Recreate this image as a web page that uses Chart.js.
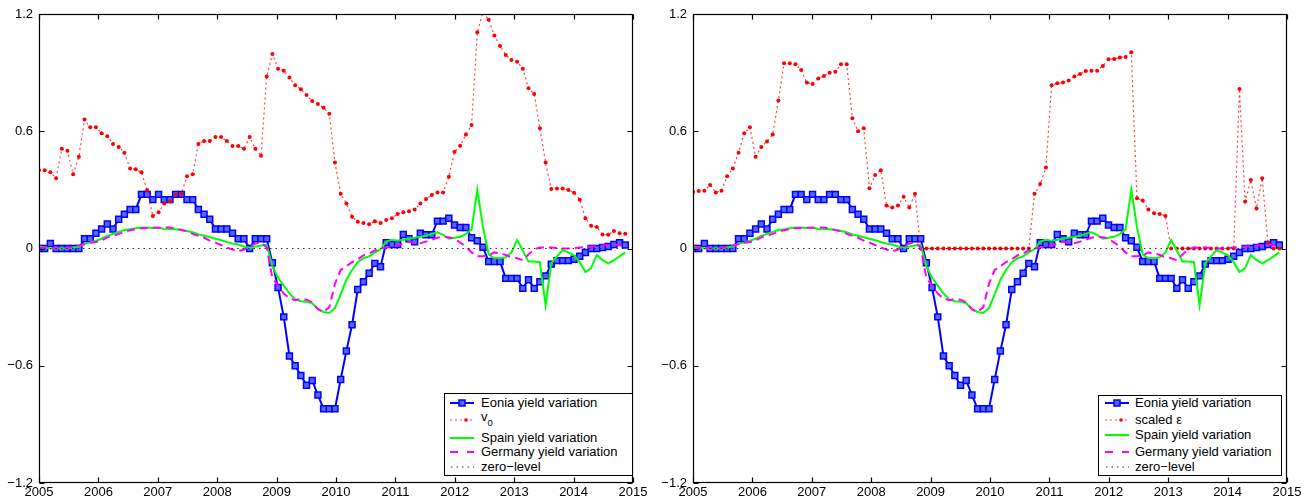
<!DOCTYPE html>
<html>
<head>
<meta charset="utf-8">
<title>Eonia, Spain and Germany yield variations</title>
<script src="https://cdn.jsdelivr.net/npm/chart.js@4.4.0/dist/chart.umd.min.js"></script>
<style>
  body { margin: 0; background: #fff; }
  #wrap {
    position: relative;
    width: 1315px;
    height: 501px;
    overflow: hidden;
    font-family: "Liberation Sans", Arial, sans-serif;
  }
  #wrap canvas { position: absolute; top: 0; }
  .legend {
    position: absolute;
    box-sizing: border-box;
    border: 1px solid #000;
    background: #fff;
  }
  .legend .row {
    position: absolute;
    left: 0;
    height: 16px;
    line-height: 16px;
    font-size: 13px;
    white-space: nowrap;
    color: #000;
  }
  .legend .row svg { position: absolute; top: 2px; }
  .legend .row span.txt { position: absolute; }
  .legend .sub { font-size: 9.5px; position: relative; top: 5px; }
</style>
</head>
<body>
<div id="wrap">
  <canvas id="leftChart" width="655" height="501" style="left:0"></canvas>
  <canvas id="rightChart" width="660" height="501" style="left:655px"></canvas>
  <div id="leftLegend" class="legend" style="left:444px; top:393px; width:189px; height:83px"></div>
  <div id="rightLegend" class="legend" style="left:1098px; top:395px; width:184px; height:81px"></div>
</div>
<script>
// observations are about five weeks apart, starting Jan 2005
const START_YEAR = 2005;
const STEP_DAYS = 35;

const yearTicks = [2005, 2006, 2007, 2008, 2009, 2010, 2011, 2012, 2013, 2014, 2015];
const valueTicks = [-1.2, -0.6, 0, 0.6, 1.2];

const eonia = [
  0, 0, 0.026, 0, 0, 0, 0, 0, 0.05, 0.05,
  0.078, 0.1, 0.125, 0.1, 0.15, 0.175, 0.2, 0.2, 0.277, 0.277,
  0.25, 0.277, 0.25, 0.25, 0.277, 0.277, 0.25, 0.25, 0.2, 0.175,
  0.15, 0.1, 0.1, 0.1, 0.078, 0.05, 0.05, 0, 0.05, 0.05,
  0.05, -0.073, -0.2, -0.35, -0.55, -0.6, -0.65, -0.7, -0.675, -0.75,
  -0.82, -0.82, -0.82, -0.67, -0.525, -0.39, -0.21, -0.17, -0.127, -0.076,
  -0.093, 0.03, 0.02, 0.02, 0.072, 0.05, 0.035, 0.078, 0.07, 0.07,
  0.14, 0.14, 0.155, 0.12, 0.107, 0.107, 0.055, 0.04, 0.006, -0.067,
  -0.067, -0.067, -0.153, -0.153, -0.153, -0.204, -0.16, -0.204, -0.17, -0.14,
  -0.08, -0.062, -0.062, -0.062, -0.055, -0.04, -0.02, 0, 0, 0.005,
  0.01, 0.02, 0.03, 0.018,
];

const v0 = [
  0.4, 0.4, 0.39, 0.36, 0.51, 0.5, 0.38, 0.47, 0.66, 0.62,
  0.62, 0.59, 0.575, 0.535, 0.52, 0.49, 0.41, 0.405, 0.39, 0.3,
  0.166, 0.185, 0.23, 0.24, 0.275, 0.28, 0.37, 0.38, 0.535, 0.55,
  0.55, 0.57, 0.57, 0.55, 0.525, 0.525, 0.51, 0.57, 0.51, 0.475,
  0.88, 0.995, 0.92, 0.91, 0.875, 0.835, 0.815, 0.785, 0.755, 0.74,
  0.72, 0.69, 0.44, 0.28, 0.23, 0.163, 0.137, 0.13, 0.124, 0.14,
  0.13, 0.146, 0.155, 0.177, 0.185, 0.19, 0.2, 0.23, 0.253, 0.274,
  0.287, 0.287, 0.367, 0.495, 0.526, 0.584, 0.632, 1.106, 1.21, 1.17,
  1.09, 1.036, 0.99, 0.965, 0.956, 0.92, 0.82, 0.79, 0.615, 0.44,
  0.305, 0.307, 0.307, 0.3, 0.285, 0.25, 0.155, 0.117, 0.11, 0.072,
  0.07, 0.09, 0.078, 0.075,
];

const scaledEps = [
  0.29, 0.294, 0.296, 0.325, 0.287, 0.296, 0.37, 0.41, 0.49, 0.59,
  0.62, 0.47, 0.52, 0.547, 0.584, 0.757, 0.948, 0.948, 0.943, 0.913,
  0.849, 0.842, 0.87, 0.883, 0.9, 0.905, 0.943, 0.943, 0.666, 0.6,
  0.615, 0.308, 0.376, 0.4, 0.22, 0.21, 0.22, 0.265, 0.21, 0.28,
  0, 0, 0, 0, 0, 0, 0, 0, 0, 0,
  0, 0, 0, 0, 0, 0, 0, 0, 0, 0,
  0.28, 0.33, 0.415, 0.835, 0.845, 0.85, 0.86, 0.88, 0.893, 0.908,
  0.91, 0.91, 0.934, 0.968, 0.97, 0.978, 0.98, 1.004, 0.257, 0.245,
  0.2, 0.18, 0.177, 0.166, 0, 0, 0, 0, 0, 0,
  0, 0, 0, 0, 0, 0, 0.816, 0.24, 0.35, 0.205,
  0.36, 0.03, 0, 0,
];

const spain = [
  0.01, 0.005, 0, 0, 0, 0, 0.005, 0.01, 0.025, 0.03,
  0.04, 0.05, 0.065, 0.075, 0.085, 0.095, 0.098, 0.104, 0.107, 0.107,
  0.105, 0.107, 0.1, 0.098, 0.098, 0.095, 0.09, 0.083, 0.072, 0.065,
  0.058, 0.05, 0.042, 0.033, 0.025, 0.02, 0.01, 0.002, 0.01, 0.015,
  0.018, -0.09, -0.15, -0.19, -0.23, -0.26, -0.27, -0.272, -0.28, -0.31,
  -0.325, -0.33, -0.305, -0.235, -0.16, -0.11, -0.07, -0.05, -0.04, -0.02,
  -0.004, 0.035, 0.045, 0.04, 0.045, 0.05, 0.055, 0.06, 0.065, 0.075,
  0.083, 0.07, 0.05, 0.055, 0.06, 0.075, 0.098, 0.3, 0.11, -0.03,
  -0.05, -0.05, -0.045, -0.02, 0.044, -0.01, -0.067, -0.067, -0.07, -0.29,
  -0.076, -0.04, -0.008, -0.02, -0.035, -0.07, -0.12, -0.1, -0.033, -0.06,
  -0.076, -0.06, -0.04, -0.02,
];

const germany = [
  0, 0.008, 0.005, 0, 0, 0.003, 0.008, 0.016, 0.022, 0.03,
  0.033, 0.042, 0.057, 0.065, 0.075, 0.085, 0.093, 0.1, 0.104, 0.105,
  0.106, 0.106, 0.107, 0.107, 0.102, 0.095, 0.088, 0.075, 0.065, 0.055,
  0.04, 0.03, 0.018, 0.005, -0.005, -0.015, -0.005, 0.01, 0.025, 0.03,
  0.005, -0.15, -0.19, -0.23, -0.255, -0.265, -0.258, -0.262, -0.275, -0.31,
  -0.325, -0.3, -0.18, -0.11, -0.09, -0.07, -0.055, -0.035, -0.025, -0.01,
  0, 0.005, 0.01, 0.015, 0.025, 0.035, 0.03, 0.027, 0.035, 0.045,
  0.055, 0.06, 0.058, 0.05, 0.03, 0.01, -0.02, -0.04, -0.04, -0.035,
  -0.02, -0.025, -0.033, -0.045, -0.05, -0.06, -0.03, -0.005, 0.005, 0.006,
  0.005, 0.002, 0, 0, 0.002, 0.005, 0.008, 0.01, 0.012, 0.015,
  0.018, 0.02, 0.018, 0.015,
];

const sampleDates = eonia.map((_, i) => START_YEAR + (i * STEP_DAYS) / 365.25);

const colors = {
  eonia: "#0000ff",
  eoniaFill: "#5468ff",
  red: "#ff0000",
  redLine: "rgba(255, 0, 0, 0.75)",
  spain: "#00ff00",
  germany: "#ff00ff",
  zero: "#333333",
};

const FONT = { family: '"Liberation Sans", Arial, sans-serif', size: 13 };

function toPoints(values) {
  return values.map((v, i) => ({ x: sampleDates[i], y: v }));
}

function formatValue(v) {
  if (Math.abs(v) < 1e-9) return "0";
  return (v < 0 ? "\u2212" : "") + Math.abs(v).toFixed(1);
}

// box round the plot plus inward tick marks on all four sides
const matlabFrame = {
  id: "matlabFrame",
  afterDatasetsDraw(chart) {
    const { ctx, chartArea: a, scales } = chart;
    const L = Math.round(a.left) + 0.5, R = Math.round(a.right) - 0.5;
    const T = Math.round(a.top) + 0.5, B = Math.round(a.bottom) - 0.5;
    ctx.save();
    ctx.strokeStyle = "#000";
    ctx.lineWidth = 1.2;
    ctx.strokeRect(L, T, R - L, B - T);
    ctx.beginPath();
    yearTicks.forEach((yr) => {
      const px = Math.round(scales.x.getPixelForValue(yr)) + 0.5;
      ctx.moveTo(px, B); ctx.lineTo(px, B - 5);
      ctx.moveTo(px, T); ctx.lineTo(px, T + 5);
    });
    valueTicks.forEach((v) => {
      const py = Math.round(scales.y.getPixelForValue(v)) + 0.5;
      ctx.moveTo(L, py); ctx.lineTo(L + 5, py);
      ctx.moveTo(R, py); ctx.lineTo(R - 5, py);
    });
    ctx.stroke();
    ctx.restore();
  },
};

function buildDatasets(redValues) {
  // first dataset is painted last, so list them top layer first
  return [
    {
      label: "zero-level",
      data: [{ x: 2005, y: 0 }, { x: 2015, y: 0 }],
      borderColor: colors.zero,
      borderWidth: 1,
      borderDash: [1.5, 4],
      pointRadius: 0,
    },
    {
      label: "Germany yield variation",
      data: toPoints(germany),
      borderColor: colors.germany,
      borderWidth: 2,
      borderDash: [8, 5],
      pointRadius: 0,
    },
    {
      label: "Spain yield variation",
      data: toPoints(spain),
      borderColor: colors.spain,
      borderWidth: 2,
      pointRadius: 0,
    },
    {
      label: "red",
      data: toPoints(redValues),
      borderColor: colors.redLine,
      borderWidth: 1.2,
      borderDash: [2, 3],
      pointRadius: 2,
      pointBorderWidth: 0,
      pointBackgroundColor: colors.red,
    },
    {
      label: "Eonia yield variation",
      data: toPoints(eonia),
      borderColor: colors.eonia,
      borderWidth: 2,
      pointStyle: "rect",
      pointRadius: 4.2,
      pointBorderWidth: 1.5,
      pointBorderColor: colors.eonia,
      pointBackgroundColor: colors.eoniaFill,
    },
  ];
}

function createChart(id, redValues, axisWidth, rightPad) {
  const ctx = document.getElementById(id).getContext("2d");
  return new Chart(ctx, {
    type: "line",
    data: { datasets: buildDatasets(redValues) },
    options: {
      responsive: false,
      devicePixelRatio: 1,
      animation: false,
      events: [],
      layout: { padding: { top: 14, right: rightPad, bottom: 0, left: 0 } },
      plugins: { legend: { display: false }, tooltip: { enabled: false } },
      scales: {
        x: {
          type: "linear",
          min: 2005,
          max: 2015,
          grid: { display: false, drawTicks: false },
          border: { display: false },
          afterBuildTicks: (s) => { s.ticks = yearTicks.map((v) => ({ value: v })); },
          afterFit: (s) => { s.height = 18; },
          ticks: {
            autoSkip: false,
            maxRotation: 0,
            padding: 2,
            color: "#000",
            font: FONT,
            callback: (v) => String(v),
          },
        },
        y: {
          min: -1.2,
          max: 1.2,
          grid: { display: false, drawTicks: false },
          border: { display: false },
          afterBuildTicks: (s) => { s.ticks = valueTicks.map((v) => ({ value: v })); },
          afterFit: (s) => { s.width = axisWidth; },
          ticks: {
            padding: 6,
            color: "#000",
            font: FONT,
            callback: formatValue,
          },
        },
      },
    },
    plugins: [matlabFrame],
  });
}

createChart("leftChart", v0, 39, 22);
createChart("rightChart", scaledEps, 38, 28);

// legends
const SAMPLE_W = 24;
const samples = {
  eonia:
    `<line x1="0" y1="6" x2="${SAMPLE_W}" y2="6" stroke="${colors.eonia}" stroke-width="2"/>` +
    `<rect x="9" y="3" width="6" height="6" fill="${colors.eoniaFill}" stroke="${colors.eonia}" stroke-width="1.5"/>`,
  red:
    `<line x1="0" y1="6" x2="${SAMPLE_W}" y2="6" stroke="${colors.redLine}" stroke-width="1.2" stroke-dasharray="2 3"/>` +
    `<circle cx="16" cy="6" r="1.8" fill="${colors.red}"/>`,
  spain: `<line x1="0" y1="6" x2="${SAMPLE_W}" y2="6" stroke="${colors.spain}" stroke-width="2"/>`,
  germany: `<line x1="0" y1="6" x2="${SAMPLE_W}" y2="6" stroke="${colors.germany}" stroke-width="2" stroke-dasharray="8 9"/>`,
  zero: `<line x1="1" y1="6" x2="${SAMPLE_W}" y2="6" stroke="${colors.zero}" stroke-width="1" stroke-dasharray="1.5 4"/>`,
};

function buildLegend(id, entries, rowCenters, sampleLeft, textLeft) {
  const el = document.getElementById(id);
  el.innerHTML = entries
    .map((e, i) => {
      const top = rowCenters[i] - 8;
      const shift = e.raise ? -3 : 0;
      return (
        `<div class="row" style="top:${top}px; width:100%">` +
        `<svg width="${SAMPLE_W}" height="12" style="left:${sampleLeft}px">${samples[e.sample]}</svg>` +
        `<span class="txt" style="left:${textLeft}px; top:${shift}px">${e.label}</span></div>`
      );
    })
    .join("");
}

buildLegend(
  "leftLegend",
  [
    { sample: "eonia", label: "Eonia yield variation" },
    { sample: "red", label: 'v<span class="sub">0</span>', raise: true },
    { sample: "spain", label: "Spain yield variation" },
    { sample: "germany", label: "Germany yield variation" },
    { sample: "zero", label: "zero\u2212level" },
  ],
  [9, 26, 44, 58, 73],
  5,
  36
);

buildLegend(
  "rightLegend",
  [
    { sample: "eonia", label: "Eonia yield variation" },
    { sample: "red", label: "scaled \u03b5" },
    { sample: "spain", label: "Spain yield variation" },
    { sample: "germany", label: "Germany yield variation" },
    { sample: "zero", label: "zero\u2212level" },
  ],
  [7, 24, 39, 56, 71],
  6,
  36
);
</script>
</body>
</html>
